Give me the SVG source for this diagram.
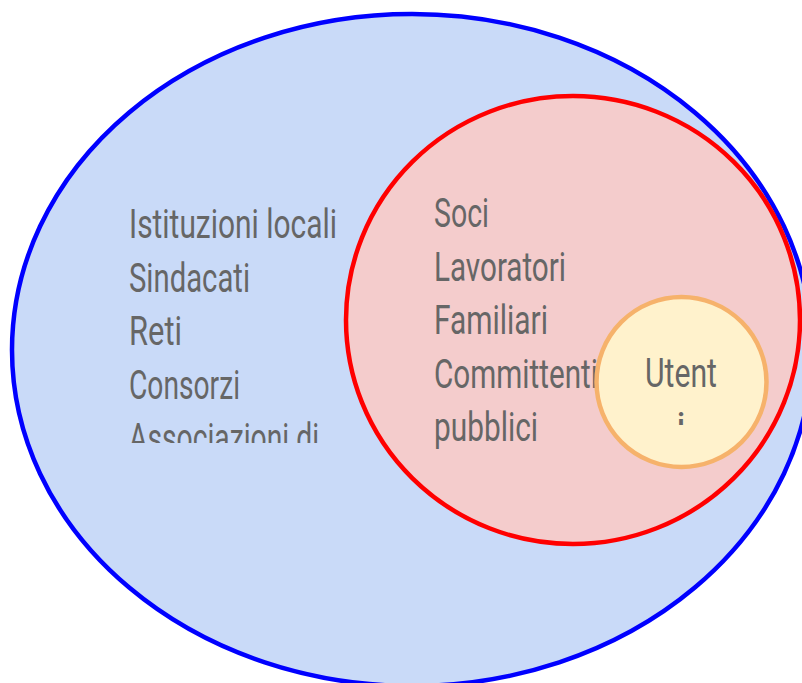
<svg xmlns="http://www.w3.org/2000/svg" width="802" height="683" viewBox="0 0 802 683">
<style>
.t{font-family:Roboto,"Liberation Sans",sans-serif;font-size:41px;font-weight:400;fill:#666666}
</style>
<defs>
<clipPath id="clipLeft"><rect x="100" y="180" width="260" height="263"/></clipPath>
<clipPath id="clipUtenti"><rect x="600" y="330" width="160" height="95"/></clipPath>
</defs>
<rect width="802" height="683" fill="#ffffff"/>
<g id="outer">
<ellipse cx="412" cy="350" rx="400" ry="336" fill="#c9daf8" stroke="#0000ff" stroke-width="4.5"/>
<g clip-path="url(#clipLeft)">
<text class="t" x="129" y="238" textLength="208" lengthAdjust="spacingAndGlyphs">Istituzioni locali</text>
<text class="t" x="129" y="291.5" textLength="121" lengthAdjust="spacingAndGlyphs">Sindacati</text>
<text class="t" x="129" y="345" textLength="53" lengthAdjust="spacingAndGlyphs">Reti</text>
<text class="t" x="129" y="398.5" textLength="111" lengthAdjust="spacingAndGlyphs">Consorzi</text>
<text class="t" x="129" y="452" textLength="190" lengthAdjust="spacingAndGlyphs">Associazioni di</text>
</g>
</g>
<g id="middle">
<ellipse cx="573" cy="320" rx="227" ry="224" fill="#f4cccc" stroke="#ff0000" stroke-width="4.5"/>
<text class="t" x="434" y="227" textLength="55" lengthAdjust="spacingAndGlyphs">Soci</text>
<text class="t" x="434" y="280.5" textLength="132" lengthAdjust="spacingAndGlyphs">Lavoratori</text>
<text class="t" x="434" y="334" textLength="114" lengthAdjust="spacingAndGlyphs">Familiari</text>
<text class="t" x="434" y="387.5" textLength="164" lengthAdjust="spacingAndGlyphs">Committenti</text>
<text class="t" x="434" y="441" textLength="104" lengthAdjust="spacingAndGlyphs">pubblici</text>
</g>
<g id="inner">
<circle cx="681.5" cy="382" r="85" fill="#fff2cc" stroke="#f6b26b" stroke-width="4.5"/>
<g clip-path="url(#clipUtenti)">
<text class="t" x="681" y="387" text-anchor="middle" textLength="72" lengthAdjust="spacingAndGlyphs">Utent</text>
<text class="t" x="681" y="441" text-anchor="middle">i</text>
</g>
</g>
</svg>
